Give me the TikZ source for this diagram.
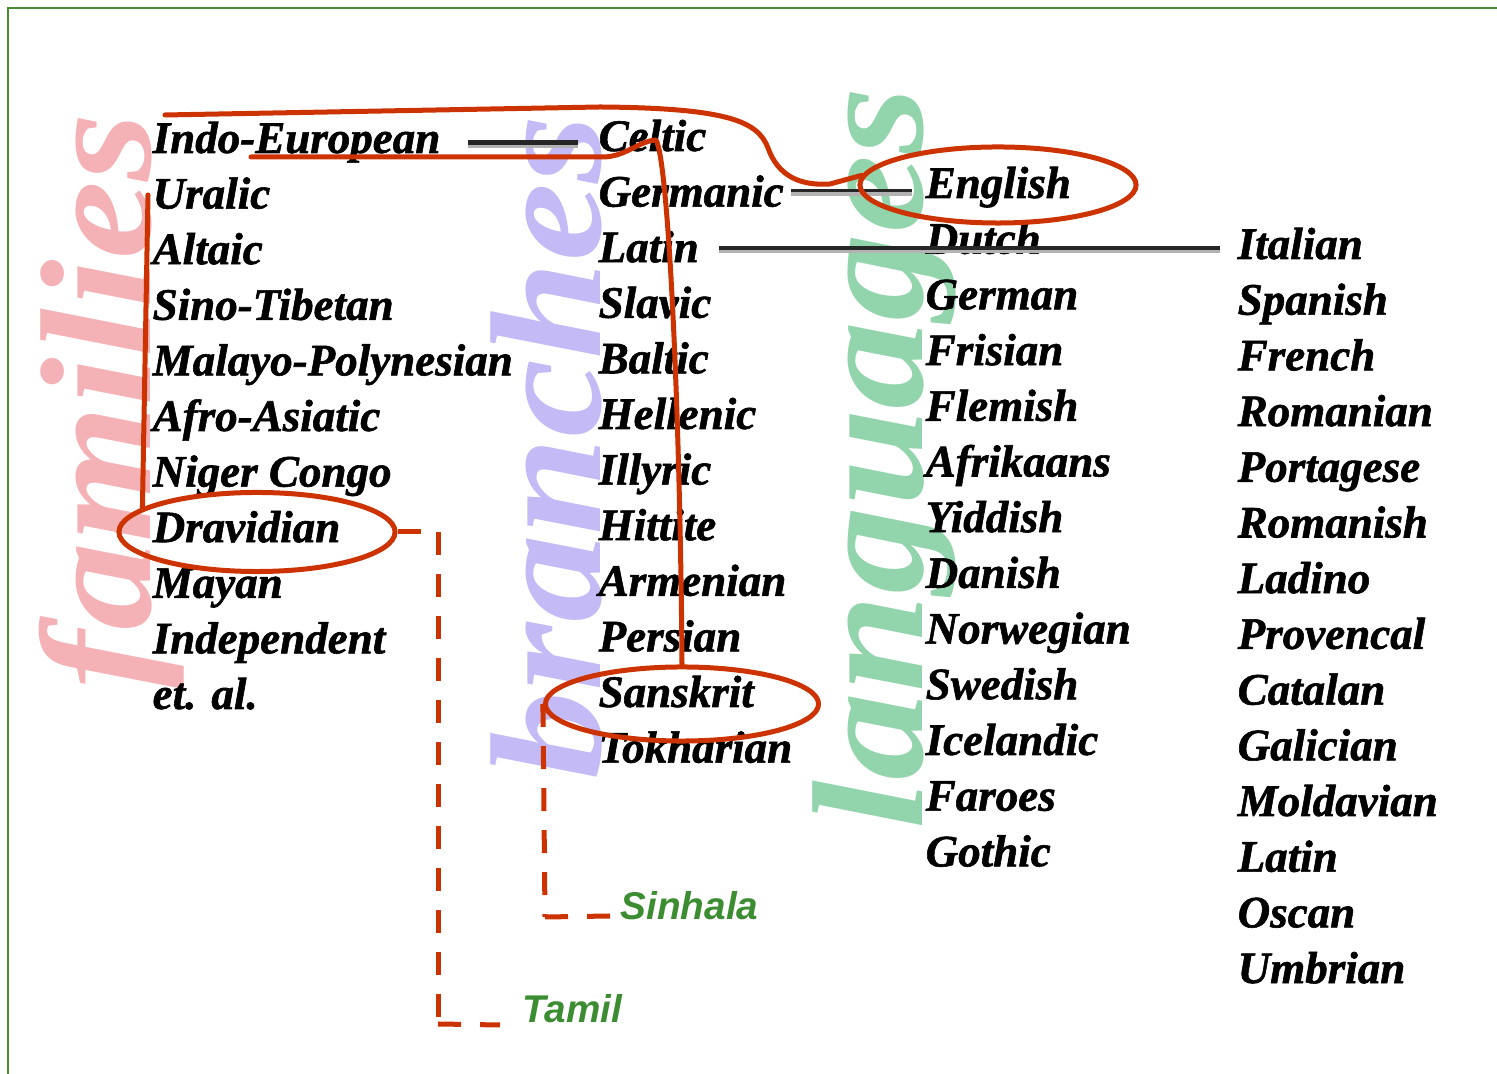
\documentclass[tikz,border=0pt]{standalone}
\usepackage{fontspec}
\setmainfont{Liberation Serif}
\newfontfamily\labfont[BoldItalicFeatures={FakeBold=1.3}]{Liberation Serif}
\newfontfamily\gsans{Liberation Sans}
\usetikzlibrary{shapes.geometric,calc}
\definecolor{redc}{RGB}{204,51,0}
\definecolor{frameg}{RGB}{70,140,50}
\definecolor{labg}{RGB}{60,140,50}
\definecolor{wmpink}{RGB}{245,178,182}
\definecolor{wmlav}{RGB}{196,186,246}
\definecolor{wmgreen}{RGB}{146,212,172}
\begin{document}
\begin{tikzpicture}[x=0.01cm,y=-0.01cm,
  lab/.style={anchor=base west, inner sep=0pt, font=\labfont\bfseries\itshape\fontsize{12.8}{14}\selectfont},
  wm/.style={anchor=base west, inner sep=0pt, rotate=90, font=\bfseries\itshape\fontsize{50}{50}\selectfont},
  glab/.style={anchor=base west, inner sep=0pt, text=labg, font=\gsans\bfseries\itshape\fontsize{11}{13}\selectfont},
  redline/.style={draw=redc, line width=0.05cm, line cap=round, line join=round},
  redell/.style={ellipse, draw=redc, line width=0.05cm, inner sep=0pt},
  dashline/.style={draw=redc, line width=0.05cm, dash pattern=on 0.23cm off 0.19cm},
  bl/.style={draw=black!85, line width=0.035cm, preaction={draw=black!30, line width=0.035cm, transform canvas={yshift=-0.035cm}}}
]
\useasboundingbox (0,0) rectangle (1497,1074);
% watermarks
\node[wm, text=wmpink] (wfam) at (150,690) {\scalebox{1}[0.9]{families}};
\node[wm, text=wmlav] (wbr) at (600,780) {\scalebox{1}[0.9]{branches}};
\node[wm, text=wmgreen] (wlang) at (922,830) {\scalebox{1}[0.9]{languages}};
% frame
\draw[frameg, line width=0.02cm] (8,1074) -- (8,8) -- (1497,8);
% labels
\foreach \t [count=\i from 0] in {Indo-European, Uralic, Altaic, Sino-Tibetan, Malayo-Polynesian, Afro-Asiatic, Niger Congo, Dravidian, Mayan, Independent, et. al.}
  \node[lab] (a\i) at (152,{153+55.6*\i}) {\t};
\foreach \t [count=\i from 0] in {Celtic, Germanic, Latin, Slavic, Baltic, Hellenic, Illyric, Hittite, Armenian, Persian, Sanskrit, Tokharian}
  \node[lab] (b\i) at (598,{151+55.6*\i}) {\t};
\foreach \t [count=\i from 0] in {English, Dutch, German, Frisian, Flemish, Afrikaans, Yiddish, Danish, Norwegian, Swedish, Icelandic, Faroes, Gothic}
  \node[lab] (c\i) at (925,{198+55.7*\i}) {\t};
\foreach \t [count=\i from 0] in {Italian, Spanish, French, Romanian, Portagese, Romanish, Ladino, Provencal, Catalan, Galician, Moldavian, Latin, Oscan, Umbrian}
  \node[lab] (d\i) at (1237,{259+55.7*\i}) {\t};
% black connectors
\draw[bl, line width=0.05cm] ($(a0.base east)+(27,-10)$) -- ($(b0.base west |- a0.base east)+(-20,-10)$);
\draw[bl] ($(b1.base east)+(7,-16)$) -- ($(c0.base west |- b1.base east)+(-13,-16)$);
\draw[bl] ($(b2.base east)+(20,-14)$) -- ($(d0.base west |- b2.base east)+(-17,-14)$);
% ellipses
\node[redell, minimum width=2.76cm, minimum height=0.76cm] (engE) at (998,185) {};
\node[redell, minimum width=2.76cm, minimum height=0.79cm] (dravE) at (257,532) {};
\node[redell, minimum width=2.73cm, minimum height=0.74cm] (sktE) at (682,704) {};
% red curves
\coordinate (ov0) at (165,115);
\draw[redline] (ov0) -- (600,107) .. controls (730,108) and (758,122) .. (768,148) .. controls (778,176) and (800,186) .. (830,184) -- (engE.176);
\coordinate (ul0) at (251,157);
\draw[redline] (ul0) -- (600,157) .. controls (625,158) and (638,141) .. (656,140) .. controls (668,160) and (680,400) .. (sktE.north);
\coordinate (ur0) at (148,195);
\draw[redline] (ur0) -- (dravE.168);
% green labels and dashed connectors
\node[glab] (tamil) at (522,1023) {Tamil};
\node[glab] (sinh) at (620,920) {Sinhala};
\coordinate (tc1) at (438,532);
\coordinate (tc) at (438,1024);
\coordinate (sc) at (545,917);
\draw[dashline] (dravE.east) -- (tc1);
\draw[dashline] (tc1) -- (tc);
\draw[dashline] (tc) -- ($(tamil.base west)+(-22,2)$);
\draw[dashline] (sktE.west) -- (sc);
\draw[dashline] (sc) -- ($(sinh.base west)+(-10,-4)$);
\end{tikzpicture}
\end{document}
